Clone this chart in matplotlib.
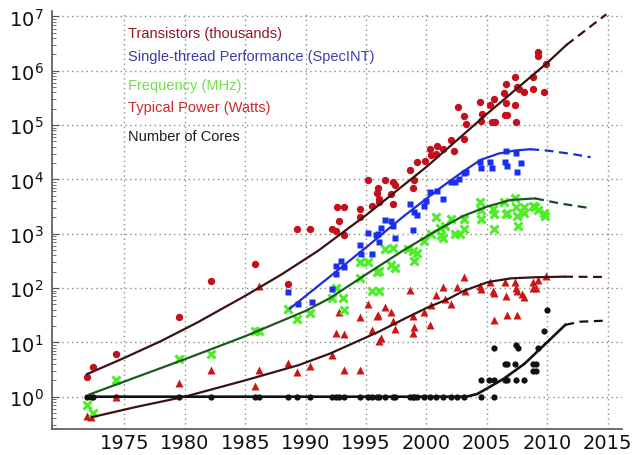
import matplotlib
matplotlib.use("Agg")
import matplotlib.pyplot as plt
from matplotlib.ticker import LogLocator, FixedLocator

# --- scatter data (year, value) ---
trans_years = [1971.9, 1972.4, 1974.3, 1979.5, 1982.2, 1985.8, 1988.5, 1989.3, 1990.4,
               1992.2, 1992.5, 1992.6, 1992.8, 1993.2, 1993.2, 1994.5, 1994.5, 1995.2,
               1995.5, 1995.9, 1996.0, 1996.1, 1996.1, 1996.6, 1997.1, 1997.2, 1997.2,
               1997.4, 1998.6, 1998.9, 1999.0, 1999.2, 1999.9, 2000.3, 2000.4, 2000.8,
               2000.9, 2001.4, 2002.0, 2002.3, 2002.6, 2003.1, 2003.1, 2003.3, 2004.4,
               2004.5, 2004.6, 2005.3, 2005.6, 2005.4, 2005.7, 2006.4, 2006.6, 2006.6,
               2006.5, 2006.7, 2007.3, 2007.3, 2007.4, 2007.5, 2007.7, 2008.1, 2008.8,
               2008.8, 2009.2, 2009.2, 2009.7, 2009.9]
trans_vals = [2.3, 3.5, 6, 29, 134, 275, 120, 1200, 1200,
              1230, 1100, 3100, 1700, 3100, 950, 2800, 2000, 9700,
              3200, 5600, 7000, 4400, 3900, 9700, 5400, 3600, 9100,
              7900, 15000, 7000, 9800, 21000, 22000, 36000, 28000, 30000,
              42000, 36000, 54000, 34000, 220000, 56000, 150000, 105000, 270000,
              120000, 160000, 230000, 300000, 115000, 115000, 390000, 580000, 260000,
              155000, 155000, 780000, 230000, 112000, 500000, 470000, 410000, 470000,
              780000, 2.2e6, 1.9e6, 410000, 1.35e6]

perf_years = [1988.5, 1989.4, 1990.5, 1992.2, 1992.5, 1992.5, 1992.9, 1993.2, 1994.5,
              1994.6, 1995.2, 1995.5, 1995.8, 1996.0, 1996.1, 1996.2, 1996.6, 1997.1,
              1997.2, 1997.4, 1998.6, 1998.9, 1999.0, 1999.2, 1999.8, 2000.0, 2000.3,
              2000.9, 2001.4, 2002.0, 2002.4, 2002.7, 2003.1, 2003.3, 2004.4, 2004.5,
              2005.3, 2005.4, 2006.5, 2006.6, 2006.7, 2007.4, 2007.5, 2007.8]
perf_vals = [86, 51, 56, 95, 260, 180, 320, 240, 620,
             430, 1050, 420, 930, 1000, 690, 1300, 1800, 1740,
             1400, 830, 3600, 1150, 2500, 2200, 3300, 4000, 5800,
             6200, 4300, 9100, 9100, 10200, 13000, 13500, 21000, 16500,
             21000, 16500, 21000, 34000, 18000, 31000, 13500, 20000]

freq_years = [1971.9, 1972.4, 1974.3, 1979.5, 1982.2, 1985.8, 1986.1, 1988.5, 1989.3,
              1990.4, 1992.2, 1992.5, 1993.1, 1993.2, 1994.5, 1994.5, 1995.2, 1995.5,
              1995.9, 1996.1, 1996.1, 1996.6, 1997.1, 1997.2, 1997.4, 1998.5, 1998.9,
              1999.0, 1999.2, 1999.8, 2000.4, 2000.8, 2001.1, 2001.2, 2001.4, 2001.5,
              2002.0, 2002.4, 2002.8, 2003.1, 2003.1, 2004.4, 2004.5, 2004.5, 2005.5,
              2005.6, 2005.6, 2006.4, 2006.6, 2006.7, 2007.3, 2007.4, 2007.5, 2007.6,
              2008.1, 2008.1, 2008.8, 2009.0, 2009.2, 2009.7, 2009.8]
freq_vals = [0.71, 0.51, 2.0, 5.0, 6.0, 16, 16, 41, 27,
             35, 66, 100, 66, 40, 150, 300, 300, 90,
             200, 90, 210, 520, 270, 540, 230, 520, 490,
             320, 450, 730, 1000, 2000, 1300, 930, 850, 1400,
             1860, 1000, 1000, 1860, 1230, 3800, 2700, 1860, 2900,
             2300, 1230, 3800, 2300, 2400, 4500, 3100, 2100, 1400,
             3100, 2400, 3300, 3100, 2750, 2400, 2130]

power_years = [1971.9, 1972.2, 1974.3, 1979.5, 1982.2, 1985.8, 1986.1, 1986.1, 1988.5,
               1989.3, 1990.4, 1992.2, 1992.5, 1992.8, 1993.2, 1993.2, 1994.5, 1994.5,
               1995.2, 1995.5, 1995.9, 1996.0, 1996.1, 1996.2, 1996.6, 1997.1, 1997.2,
               1997.4, 1998.6, 1998.9, 1999.0, 1998.9, 1999.8, 2000.3, 2000.4, 2000.8,
               2001.4, 2001.5, 2002.0, 2002.5, 2003.1, 2003.2, 2004.4, 2004.5, 2005.3,
               2005.5, 2005.6, 2005.6, 2006.5, 2006.6, 2006.7, 2007.3, 2007.4, 2007.5,
               2007.9, 2008.1, 2007.5, 2008.8, 2008.8, 2009.2, 2009.1, 2009.9]
power_vals = [0.45, 0.43, 1.0, 1.77, 3.1, 1.6, 3.1, 110, 4.2,
              2.9, 3.6, 5.9, 15, 36, 14, 3.1, 29, 3.1,
              51, 17, 31, 32, 10.7, 12, 44, 36, 25,
              18, 93, 30, 19, 15, 37, 21, 49, 75,
              103, 63, 51, 103, 158, 89, 110, 96, 128,
              89, 26, 81, 131, 72, 32, 128, 100, 89,
              78, 68, 32, 131, 100, 138, 100, 170]

cores_years = [1971.9, 1972.2, 1972.4, 1974.3, 1979.5, 1982.2, 1985.8, 1986.1, 1988.5,
               1989.3, 1990.4, 1992.2, 1992.5, 1992.8, 1993.2, 1994.5, 1995.2, 1995.5,
               1995.9, 1996.1, 1996.6, 1997.2, 1997.4, 1998.6, 1998.9, 1999.0, 1999.2,
               1999.8, 2000.3, 2000.8, 2001.4, 2002.0, 2002.5, 2003.1, 2004.5, 2005.6,
               2004.5, 2005.2, 2005.6, 2006.5, 2006.7, 2007.4, 2008.1,
               2006.5, 2006.7, 2007.3, 2008.8, 2009.1, 2008.8, 2009.1,
               2005.6, 2007.4, 2007.6, 2009.2, 2009.7, 2010.0]
cores_vals = [1] * 36 + [2] * 7 + [4] * 5 + [3] * 2 + [8, 9, 8, 8, 16, 40]

# --- trend lines: solid part, then dashed projection ---
trans_fit_years = [1971.9, 1975, 1978, 1981, 1985, 1988, 1991, 1995, 2000, 2005, 2010, 2011.6]
trans_fit_vals = [2.6, 5.2, 10.5, 23, 72, 178, 480, 2200, 17000, 1.6e5, 1.4e6, 3.0e6]
trans_proj_years = [2011.6, 2014.9]
trans_proj_vals = [3.0e6, 1.1e7]

perf_fit_years = [1988.7, 1992, 1995, 1998, 2001, 2003, 2004.5, 2006, 2007.3, 2008.6]
perf_fit_vals = [42, 162, 560, 2000, 6600, 13800, 23000, 30000, 34000, 36000]
perf_proj_years = [2008.6, 2010, 2012, 2013.6]
perf_proj_vals = [36000, 34000, 29500, 25700]

freq_fit_years = [1972.1, 1976, 1980, 1985, 1990, 1992, 1995, 1998, 2001, 2003, 2005, 2007, 2009]
freq_fit_vals = [1.1, 2.3, 4.9, 13, 38, 65, 178, 480, 1200, 2100, 3150, 4200, 4470]
freq_proj_years = [2009, 2011, 2013.6]
freq_proj_vals = [4470, 3630, 2950]

power_fit_years = [1972.3, 1976, 1980, 1985, 1989.4, 1992, 1994, 1996, 1998, 2000,
                   2001.8, 2003.1, 2005.1, 2007, 2009, 2011.4]
power_fit_vals = [0.42, 0.65, 1.0, 2.0, 3.8, 6.2, 9.8, 15.5, 26, 43,
                  63, 89, 129, 151, 158, 162]
power_proj_years = [2011.4, 2014.6]
power_proj_vals = [162, 160]

cores_fit_years = [1971.9, 2003.3, 2004.2, 2005, 2006.4, 2008.1, 2009.7, 2011.5]
cores_fit_vals = [1, 1, 1.12, 1.41, 2.14, 4.0, 8.7, 21]
cores_proj_years = [2011.5, 2012.7, 2014.6]
cores_proj_vals = [21, 24, 25]

labels = ["Transistors (thousands)", "Single-thread Performance (SpecINT)",
          "Frequency (MHz)", "Typical Power (Watts)", "Number of Cores"]
label_colors = ["#8e1a2a", "#3c3ca8", "#6ee04a", "#d02828", "#1a1a1a"]

fig = plt.figure(figsize=(6.32, 4.56), dpi=100)
ax = fig.add_axes([0.0823, 0.057, 0.902, 0.917])
ax.set_yscale("log")

dash = (0, (4, 2.5))
# trend lines
ax.plot(trans_fit_years, trans_fit_vals, color="#3a1212", lw=1.6, zorder=3)
ax.plot(trans_proj_years, trans_proj_vals, color="#3a1212", lw=1.6, ls=dash, zorder=3)
ax.plot(perf_fit_years, perf_fit_vals, color="#1c2ed8", lw=1.6, zorder=3)
ax.plot(perf_proj_years, perf_proj_vals, color="#1c2ed8", lw=1.6, ls=dash, zorder=3)
ax.plot(freq_fit_years, freq_fit_vals, color="#1c5a1c", lw=1.6, zorder=3)
ax.plot(freq_proj_years, freq_proj_vals, color="#1c4a1c", lw=1.6, ls=dash, zorder=3)
ax.plot(power_fit_years, power_fit_vals, color="#3a1212", lw=1.6, zorder=3)
ax.plot(power_proj_years, power_proj_vals, color="#3a1212", lw=1.6, ls=dash, zorder=3)
ax.plot(cores_fit_years, cores_fit_vals, color="#111111", lw=1.9, zorder=3)
ax.plot(cores_proj_years, cores_proj_vals, color="#111111", lw=1.6, ls=dash, zorder=3)

# markers
ax.plot(cores_years, cores_vals, "o", color="#111111", ms=4.5, mec="none", zorder=2)
ax.plot(power_years, power_vals, "^", color="#cc1515", ms=5.5, mec="none", zorder=2)
ax.plot(freq_years, freq_vals, "x", color="#4cee2a", ms=5.5, mew=2.2, zorder=2)
ax.plot(perf_years, perf_vals, "s", color="#1a30f0", ms=3.8, mec="none", zorder=2)
ax.plot(trans_years, trans_vals, "o", color="#c4101c", ms=5.3, mec="none", zorder=2)

# legend-like labels
label_y = [0.947, 0.892, 0.823, 0.770, 0.701]
for text, col, yy in zip(labels, label_colors, label_y):
    ax.text(0.133, yy, text, color=col, transform=ax.transAxes, va="center", ha="left",
            fontsize=10.5, family="Liberation Sans")

ax.set_xlim(1969, 2016.2)
ax.set_ylim(0.254, 1.27e7)
ax.xaxis.set_major_locator(FixedLocator([1975, 1980, 1985, 1990, 1995, 2000, 2005, 2010, 2015]))
ax.yaxis.set_major_locator(FixedLocator([1e0, 1e1, 1e2, 1e3, 1e4, 1e5, 1e6, 1e7]))
ax.yaxis.set_minor_locator(LogLocator(base=10, subs=range(2, 10), numticks=20))

ax.grid(True, which="major", linestyle=(0, (1, 2.5)), color="#8a8a8a", lw=1)
ax.set_axisbelow(True)
for side in ["top", "right"]:
    ax.spines[side].set_visible(False)
for side in ["left", "bottom"]:
    ax.spines[side].set_color("#555555")
    ax.spines[side].set_linewidth(1.2)

ax.tick_params(axis="both", which="major", direction="in", length=5, color="#555555",
               labelsize=14, labelcolor="#111111")
ax.tick_params(axis="y", which="major", pad=6)
ax.tick_params(axis="x", which="major", pad=3, length=0)
ax.tick_params(axis="y", which="minor", direction="in", length=3, color="#555555")

fig.savefig("out.png", dpi=100)
